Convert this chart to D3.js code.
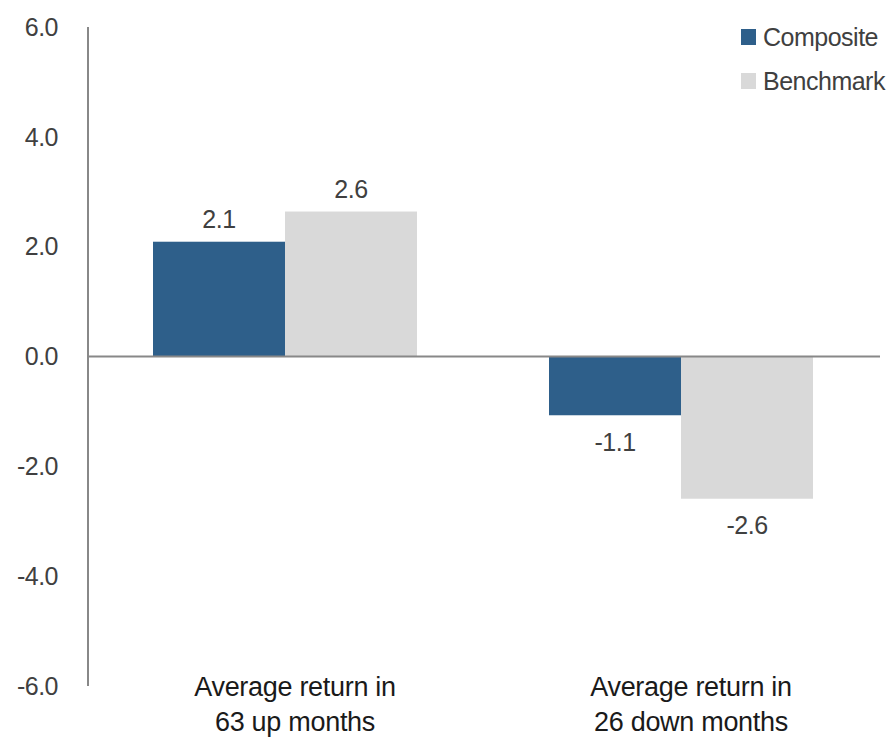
<!DOCTYPE html>
<html>
<head>
<meta charset="utf-8">
<script src="https://cdn.jsdelivr.net/npm/d3@7"></script>
<style>
  body { margin: 0; background: #fff; }
  svg { font-family: "Liberation Sans", Arial, sans-serif; letter-spacing: -0.5px; }
</style>
</head>
<body>
<svg width="891" height="737"></svg>
<script>
var categories = [["Average return in", "63 up months"], ["Average return in", "26 down months"]];
var seriesNames = ["Composite", "Benchmark"];
var composite = [2.09, -1.07];
var benchmark = [2.64, -2.59];
var yTicks = [6, 4, 2, 0, -2, -4, -6];
var colors = ["#2e5f8a", "#d9d9d9"];

var svg = d3.select("svg");
var plotLeft = 88, plotRight = 880, plotTop = 27, plotBottom = 686;

var y = d3.scaleLinear().domain([-6, 6]).range([plotBottom, plotTop]);
var x0 = d3.scaleBand().domain(d3.range(categories.length)).range([plotLeft - 1, plotRight - 1]);
var x1 = d3.scaleBand().domain(seriesNames).range([0, x0.bandwidth()]).paddingInner(0).paddingOuter(0.5);

var data = categories.map(function(c, i) {
    return { i: i, values: [composite[i], benchmark[i]] };
});

// y axis line + tick labels
svg.append("line")
    .attr("x1", plotLeft).attr("x2", plotLeft)
    .attr("y1", y(6)).attr("y2", y(-6))
    .attr("stroke", "#888").attr("stroke-width", 2);

svg.append("g").selectAll("text")
    .data(yTicks)
    .enter().append("text")
    .attr("x", 58)
    .attr("y", function(d) { return y(d); })
    .attr("dy", "0.35em")
    .attr("text-anchor", "end")
    .attr("fill", "#404040")
    .style("font-size", "25px")
    .text(function(d) { return d.toFixed(1); });

// bars
var groups = svg.append("g").selectAll("g")
    .data(data)
    .enter().append("g")
    .attr("transform", function(d) { return "translate(" + x0(d.i) + ",0)"; });

groups.selectAll("rect")
    .data(function(d) { return d.values.map(function(v, k) { return { name: seriesNames[k], value: v, k: k }; }); })
    .enter().append("rect")
    .attr("x", function(d) { return x1(d.name); })
    .attr("width", x1.bandwidth())
    .attr("y", function(d) { return y(Math.max(0, d.value)); })
    .attr("height", function(d) { return Math.abs(y(d.value) - y(0)); })
    .attr("fill", function(d) { return colors[d.k]; });

groups.selectAll("text")
    .data(function(d) { return d.values.map(function(v, k) { return { name: seriesNames[k], value: v }; }); })
    .enter().append("text")
    .attr("x", function(d) { return x1(d.name) + x1.bandwidth() / 2; })
    .attr("y", function(d) { return d.value >= 0 ? y(d.value) - 22 : y(d.value) + 27; })
    .attr("dy", "0.35em")
    .attr("text-anchor", "middle")
    .attr("fill", "#404040")
    .style("font-size", "25px")
    .text(function(d) { return d.value.toFixed(1); });

// zero line
svg.append("line")
    .attr("x1", plotLeft).attr("x2", plotRight)
    .attr("y1", y(0)).attr("y2", y(0))
    .attr("stroke", "#888").attr("stroke-width", 2);

// category labels
svg.append("g").selectAll("text")
    .data(categories)
    .enter().append("text")
    .attr("x", function(d, i) { return x0(i) + x0.bandwidth() / 2 + 10; })
    .attr("y", 687)
    .attr("text-anchor", "middle")
    .attr("fill", "#1a1a1a")
    .style("font-size", "27px")
    .style("letter-spacing", "-0.3px")
    .each(function(d) {
        var t = d3.select(this);
        d.forEach(function(line, j) {
            t.append("tspan")
                .attr("x", t.attr("x"))
                .attr("dy", j === 0 ? "0.35em" : "1.27em")
                .text(line);
        });
    });

// legend
var legend = svg.append("g").selectAll("g")
    .data(seriesNames)
    .enter().append("g")
    .attr("transform", function(d, i) { return "translate(741," + (29 + i * 44) + ")"; });

legend.append("rect")
    .attr("width", 15).attr("height", 16)
    .attr("fill", function(d, i) { return colors[i]; });

legend.append("text")
    .attr("x", 22).attr("y", 8)
    .attr("dy", "0.35em")
    .attr("fill", "#404040")
    .style("font-size", "25px")
    .text(function(d) { return d; });
</script>
</body>
</html>
